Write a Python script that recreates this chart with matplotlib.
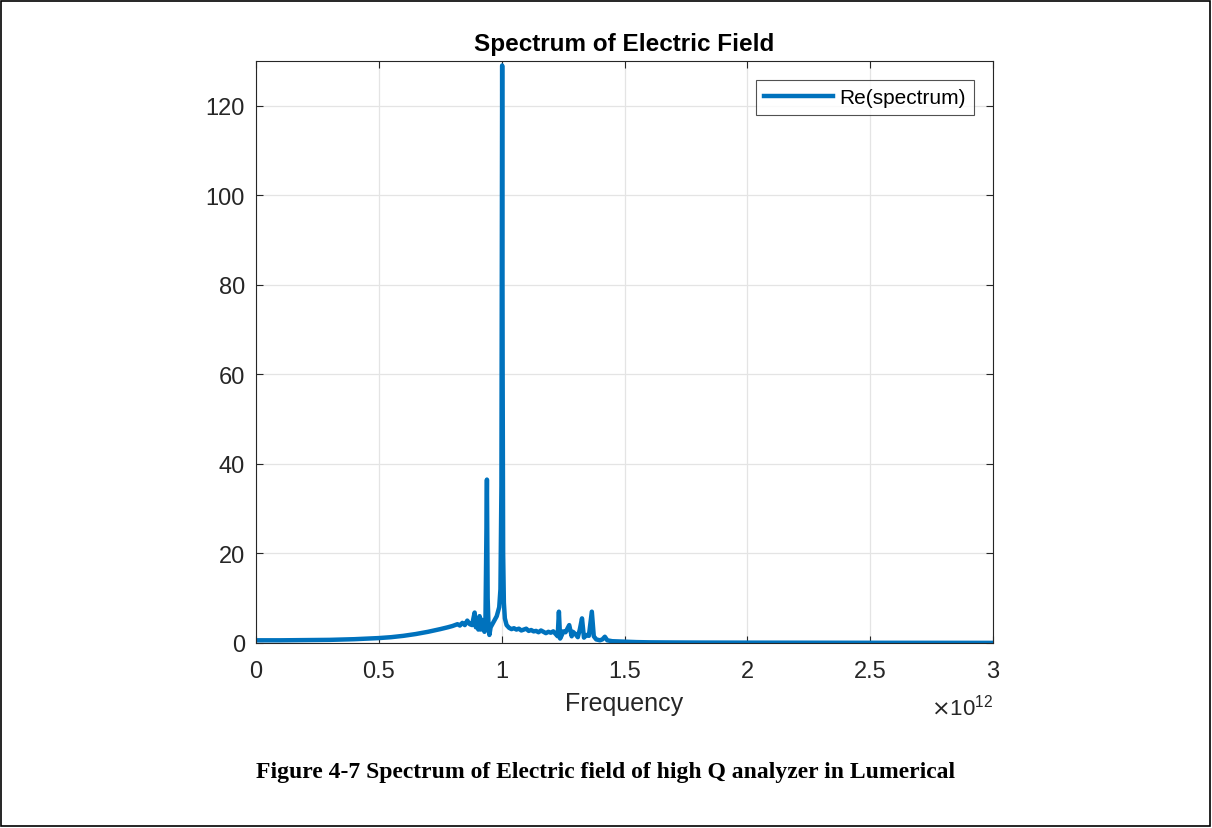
import matplotlib
matplotlib.use('Agg')
from matplotlib import pyplot as plt
from matplotlib.patches import Rectangle

# frequency in units of 1e12, value = Re(spectrum)
freq = [0.0, 0.1, 0.2, 0.3, 0.4, 0.5, 0.55, 0.6, 0.65, 0.7, 0.75, 0.78, 0.8, 0.82, 0.83,
        0.84, 0.85, 0.86, 0.87, 0.88, 0.885, 0.89, 0.895, 0.90, 0.905, 0.91, 0.915, 0.92,
        0.925, 0.93, 0.934, 0.937, 0.940, 0.943, 0.947, 0.95, 0.955, 0.96, 0.97, 0.98,
        0.99, 0.995, 0.999, 1.002, 1.004, 1.006, 1.009, 1.013, 1.02, 1.03, 1.04, 1.05,
        1.06, 1.07, 1.08, 1.09, 1.10, 1.11, 1.12, 1.13, 1.14, 1.15, 1.16, 1.17, 1.18,
        1.19, 1.20, 1.21, 1.22, 1.228, 1.233, 1.238, 1.245, 1.25, 1.26, 1.275, 1.285,
        1.29, 1.30, 1.31, 1.318, 1.327, 1.335, 1.345, 1.355, 1.367, 1.375, 1.385, 1.40,
        1.41, 1.42, 1.43, 1.45, 1.5, 1.55, 1.6, 1.7, 1.8, 2.0, 2.2, 2.5, 2.8, 3.0]
re_spec = [0.6, 0.6, 0.65, 0.7, 0.85, 1.1, 1.3, 1.6, 2.0, 2.5, 3.1, 3.5, 3.8, 4.2, 3.9,
           4.5, 4.0, 5.0, 4.2, 4.0, 5.5, 6.8, 3.5, 5.5, 3.0, 6.0, 3.0, 5.2, 3.5, 2.5,
           5.0, 20.0, 36.5, 10.0, 3.0, 1.8, 3.5, 4.0, 5.0, 6.0,
           8.0, 12.0, 35.0, 129.0, 60.0, 20.0, 9.0, 5.5, 4.0, 3.4, 3.1, 3.3,
           3.0, 3.2, 2.8, 3.0, 3.2, 2.7, 2.9, 2.6, 2.7, 2.4, 2.8, 2.5, 2.2,
           2.5, 2.3, 2.6, 2.0, 1.5, 7.0, 1.0, 1.8, 2.6, 2.4, 4.0, 1.5,
           2.5, 2.0, 1.3, 3.0, 5.5, 1.2, 1.8, 1.6, 7.0, 1.5, 0.8, 0.6,
           0.8, 1.4, 0.6, 0.4, 0.3, 0.2, 0.15, 0.12, 0.1, 0.08, 0.07, 0.05, 0.04, 0.03]

x_ticks = [0, 0.5, 1, 1.5, 2, 2.5, 3]
x_labels = ['0', '0.5', '1', '1.5', '2', '2.5', '3']
y_ticks = [0, 20, 40, 60, 80, 100, 120]

plt.rcParams['font.family'] = ['Liberation Sans', 'DejaVu Sans']
fig = plt.figure(figsize=(12.12, 8.29), dpi=100)
ax = fig.add_axes([256/1212, 1-644/829, (993-256)/1212, (644-62)/829])

ax.plot(freq, re_spec, color='#0072BD', linewidth=3.2, label='Re(spectrum)')
ax.set_xlim(0, 3)
ax.set_ylim(0, 130)
ax.set_xticks(x_ticks)
ax.set_xticklabels(x_labels)
ax.set_yticks(y_ticks)
ax.grid(True, color='#e4e4e4', linewidth=0.9)
ax.set_axisbelow(True)
ax.tick_params(direction='in', top=True, right=True, length=5, width=0.8,
               labelsize=17, colors='#262626', pad=8)
ax.tick_params(axis='x', pad=12)
for s in ax.spines.values():
    s.set_color('#262626')
    s.set_linewidth(0.8)

ax.set_title('Spectrum of Electric Field', fontsize=17.5, fontweight='bold', pad=8)
ax.set_xlabel('Frequency', fontsize=18, color='#262626', labelpad=7)
ax.text(1.0, -0.11, r'$\times\mathregular{10^{12}}$', transform=ax.transAxes, ha='right',
        va='center', fontsize=16, color='#262626')

leg = ax.legend(loc='upper right', fontsize=15, frameon=True, fancybox=False,
                borderaxespad=0.9, handlelength=3.3, handletextpad=0.3,
                borderpad=0.4)
leg.get_frame().set_edgecolor('#262626')
leg.get_frame().set_linewidth(0.8)

fig.text(0.5, 1-773/829, 'Figure 4-7 Spectrum of Electric field of high Q analyzer in Lumerical',
         ha='center', va='center', fontsize=17, fontweight='bold', family='Liberation Serif')

fig.add_artist(Rectangle((0.001, 0.002), 0.997, 0.996, transform=fig.transFigure,
                         fill=False, edgecolor='black', linewidth=1.2))

fig.savefig('out.png', dpi=100)
